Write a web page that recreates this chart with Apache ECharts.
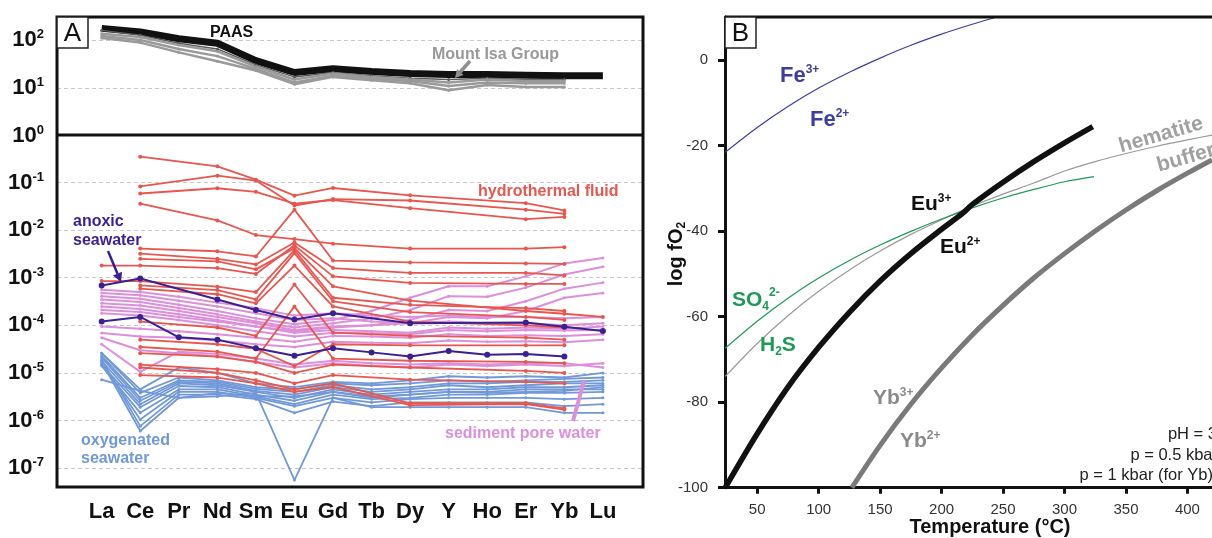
<!DOCTYPE html>
<html>
<head>
<meta charset="utf-8">
<script src="https://cdn.jsdelivr.net/npm/echarts@6/dist/echarts.min.js"></script>
<style>
  html, body { margin: 0; padding: 0; background: #ffffff; }
  #chart { width: 1212px; height: 538px; }
</style>
</head>
<body>
<div id="chart"></div>
<script>
// ---- Panel A: chondrite-normalised REE+Y patterns ----
const elements = ['La', 'Ce', 'Pr', 'Nd', 'Sm', 'Eu', 'Gd', 'Tb', 'Dy', 'Y', 'Ho', 'Er', 'Yb', 'Lu'];

const paas = [174, 147, 106, 85, 37, 21, 25, 22, 20, 19, 19, 18.5, 18, 18];

const mountIsaGroup = [
  [158, 125, 85, 65, 30, 17, 21, 18, 16, 15, 16, 15, 15, null],
  [135, 115, 78, 58, 28, 15, 20, 17, 15, 13, 15, 14, 14, null],
  [120, 100, 65, 46, 25, 13, 18, 15.5, 14, 11, 13, 12.5, 12.5, null],
  [110, 88, 55, 36, 23, 12, 17, 14.5, 12.5, 9, 11.5, 10.5, 10.5, null]
];

const hydrothermalFluid = [
  [null, 0.35, null, 0.22, 0.115, 0.053, 0.077, null, 0.054, null, null, 0.037, 0.026, null],
  [null, 0.083, null, 0.14, 0.11, 0.033, 0.045, null, 0.042, null, null, 0.027, 0.022, null],
  [null, 0.059, null, 0.076, 0.064, 0.036, 0.043, null, 0.029, null, null, 0.017, 0.019, null],
  [null, 0.036, null, 0.016, 0.0079, 0.0065, 0.0052, null, 0.0041, null, null, 0.0041, 0.0044, null],
  [null, 4.1e-3, null, 3.6e-3, 2.8e-3, 2.7e-2, 2.3e-3, null, 2.1e-3, null, null, 2.0e-3, 1.95e-3, null],
  [null, 3.2e-3, null, 2.5e-3, 1.9e-3, 5.5e-3, 1.6e-3, null, 1.26e-3, null, null, 1.26e-3, 1.12e-3, null],
  [1.8e-3, 1.8e-3, null, 1.6e-3, 1.2e-3, 4.8e-3, 1.07e-3, null, 7.8e-4, null, null, 7.4e-4, 7.4e-4, null],
  [null, 2.5e-3, null, 2.2e-3, 1.5e-3, 4.2e-3, 6.6e-4, null, 3.3e-4, null, null, 2.0e-4, 1.75e-4, 1.5e-4],
  [8.5e-4, 8.5e-4, null, 6.5e-4, 5.0e-4, 3.8e-3, 3.8e-4, null, 2.7e-4, null, null, 2.3e-4, 2.0e-4, null],
  [null, 6.9e-4, null, 5.5e-4, 3.5e-4, 3.3e-3, 3.2e-4, null, 1.9e-4, null, null, 1.5e-4, 1.3e-4, null],
  [null, 5.9e-4, null, 4.5e-4, 2.9e-4, 1.8e-3, 2.5e-4, null, 1.2e-4, null, null, 1.0e-4, 9.0e-5, null],
  [null, 1.2e-4, null, 9.0e-5, 6.0e-5, 7.2e-4, 7.0e-5, null, 6.0e-5, null, null, 5.5e-5, 5.0e-5, null],
  [null, 5.0e-5, null, 4.0e-5, 3.2e-5, 1.4e-5, 4.0e-5, null, 3.8e-5, null, null, 3.8e-5, 3.8e-5, null],
  [null, 3.5e-5, null, 2.8e-5, 2.0e-5, 2.5e-4, 2.0e-5, null, 1.8e-5, null, null, 1.7e-5, 1.6e-5, null],
  [null, 2.6e-5, null, 2.2e-5, 1.7e-5, 1.0e-5, 1.5e-5, null, 1.3e-5, null, null, 1.1e-5, 1.0e-5, null],
  [null, 1.5e-5, null, 1.2e-5, 1.0e-5, 6.0e-6, 9.0e-6, null, 7.2e-6, null, null, 6.5e-6, 6.0e-6, null],
  [null, 1.3e-5, null, 1.0e-5, 7.0e-6, 4.5e-6, 6.0e-6, null, 2.3e-6, null, null, 2.3e-6, 1.8e-6, null],
  [null, 9.0e-6, null, 8.0e-6, 6.0e-6, 4.0e-6, 5.0e-6, null, 2.1e-6, null, null, 2.2e-6, 1.7e-6, null]
];

const anoxicSeawater = [
  [6.9e-4, 9.6e-4, null, 3.5e-4, 2.1e-4, 1.32e-4, 1.8e-4, null, 1.1e-4, null, null, 1.15e-4, 9.3e-5, 7.6e-5],
  [1.2e-4, 1.5e-4, 5.6e-5, 5.0e-5, 3.3e-5, 2.3e-5, 3.3e-5, 2.7e-5, 2.2e-5, 2.9e-5, 2.4e-5, 2.5e-5, 2.2e-5, null]
];

const sedimentPoreWater = [
  [5.6e-4, 5.0e-4, 4.0e-4, 3.0e-4, 2.3e-4, 1.6e-4, 1.8e-4, 1.6e-4, 1.5e-4, 1.6e-4, 1.5e-4, 1.5e-4, 1.4e-4, 1.5e-4],
  [4.8e-4, 4.3e-4, 3.3e-4, 2.5e-4, 1.8e-4, 1.3e-4, 1.4e-4, 1.2e-4, 1.1e-4, 1.2e-4, 1.1e-4, 1.1e-4, 1.0e-4, 1.1e-4],
  [4.1e-4, 3.6e-4, 2.7e-4, 2.0e-4, 1.4e-4, 1.05e-4, 1.3e-4, 2.0e-4, 3.8e-4, 6.6e-4, 6.6e-4, 1.07e-3, 2.0e-3, 2.6e-3],
  [3.5e-4, 3.1e-4, 2.3e-4, 1.7e-4, 1.2e-4, 9.0e-5, 1.1e-4, 1.4e-4, 2.1e-4, 4.1e-4, 4.0e-4, 6.2e-4, 1.17e-3, 1.7e-3],
  [2.1e-4, 1.9e-4, 1.5e-4, 1.2e-4, 9.5e-5, 7.5e-5, 9.0e-5, 1.0e-4, 1.3e-4, 2.1e-4, 2.0e-4, 3.2e-4, 5.9e-4, 7.9e-4],
  [2.9e-4, 2.6e-4, 2.0e-4, 1.5e-4, 1.1e-4, 8.0e-5, 9.5e-5, 1.0e-4, 1.1e-4, 1.5e-4, 1.4e-4, 2.0e-4, 3.8e-4, 4.8e-4],
  [2.5e-4, 2.2e-4, 1.7e-4, 1.3e-4, 9.5e-5, 7.0e-5, 8.0e-5, 7.5e-5, 7.0e-5, 9.0e-5, 8.5e-5, 9.0e-5, 8.5e-5, 9.5e-5],
  [1.8e-4, 1.6e-4, 1.3e-4, 1.0e-4, 7.5e-5, 5.8e-5, 7.0e-5, 6.8e-5, 6.5e-5, 8.0e-5, 7.5e-5, 8.0e-5, 7.8e-5, 8.1e-5],
  [9.5e-5, 8.5e-5, 7.5e-5, 6.5e-5, 5.5e-5, 4.5e-5, 6.0e-5, 5.8e-5, 5.5e-5, 6.5e-5, 6.0e-5, 6.2e-5, 6.0e-5, 6.5e-5],
  [6.9e-5, 5.8e-5, 5.5e-5, 4.8e-5, 4.0e-5, 3.5e-5, 4.5e-5, 4.3e-5, 4.2e-5, 4.8e-5, 4.5e-5, 4.6e-5, 4.4e-5, 5.0e-5],
  [5.5e-5, 3.0e-5, 2.6e-5, 2.2e-5, 1.7e-5, 1.3e-5, 1.6e-5, 1.4e-5, 1.3e-5, 1.5e-5, 1.4e-5, 1.5e-5, 1.4e-5, 1.6e-5],
  [4.0e-5, 1.05e-5, 2.8e-5, 2.5e-5, 2.0e-5, 1.5e-5, 1.8e-5, 1.6e-5, 1.5e-5, 1.6e-5, 1.5e-5, 1.6e-5, 1.6e-5, 1.3e-5]
];

const oxygenatedSeawater = [
  [2.6e-5, 3.8e-6, 8.0e-6, 7.0e-6, 5.0e-6, 4.5e-6, 6.0e-6, 5.5e-6, 6.0e-6, 7.0e-6, 6.5e-6, 7.0e-6, 7.5e-6, 8.0e-6],
  [2.3e-5, 3.0e-6, 7.0e-6, 6.5e-6, 4.6e-6, 4.0e-6, 5.5e-6, 4.5e-6, 5.0e-6, 6.0e-6, 6.0e-6, 6.5e-6, 6.5e-6, 7.0e-6],
  [2.1e-5, 2.6e-6, 6.5e-6, 6.0e-6, 4.2e-6, 3.5e-6, 5.0e-6, 4.0e-6, 4.5e-6, 5.5e-6, 5.0e-6, 5.5e-6, 6.0e-6, 6.0e-6],
  [1.8e-5, 2.2e-6, 6.0e-6, 5.5e-6, 4.0e-6, 3.0e-6, 4.5e-6, 3.5e-6, 4.0e-6, 4.5e-6, 4.5e-6, 5.0e-6, 5.0e-6, 5.5e-6],
  [1.5e-5, 1.9e-6, 5.3e-6, 5.0e-6, 3.5e-6, 2.6e-6, 4.0e-6, 3.0e-6, 3.5e-6, 4.0e-6, 4.0e-6, 4.5e-6, 4.5e-6, 4.5e-6],
  [1.4e-5, 1.45e-6, 4.5e-6, 4.5e-6, 3.2e-6, 2.2e-6, 3.5e-6, 2.8e-6, 3.0e-6, 3.5e-6, 3.5e-6, 3.8e-6, 3.8e-6, 4.0e-6],
  [1.6e-5, 1.05e-6, 4.0e-6, 4.0e-6, 3.0e-6, 2.0e-6, 3.0e-6, 2.4e-6, 2.8e-6, 3.0e-6, 3.0e-6, 3.0e-6, 2.8e-6, 3.0e-6],
  [1.9e-5, 7.6e-7, 3.5e-6, 3.5e-6, 2.8e-6, 1.45e-6, 2.5e-6, 2.0e-6, 2.4e-6, 2.4e-6, 2.4e-6, 2.4e-6, 2.0e-6, 2.2e-6],
  [1.7e-5, 6.0e-7, 3.0e-6, 3.2e-6, 3.8e-6, 5.6e-8, 3.0e-6, 1.9e-6, 1.9e-6, 1.9e-6, 1.9e-6, 1.9e-6, 1.45e-6, 1.45e-6],
  [7.2e-6, 4.2e-6, 3.0e-6, 3.8e-6, 3.2e-6, 3.2e-6, 4.0e-6, 3.2e-6, 3.5e-6, 4.0e-6, 3.8e-6, 4.0e-6, 4.2e-6, 5.0e-6],
  [2.6e-5, 4.5e-6, 1.3e-5, 1.0e-5, 6.0e-6, 5.0e-6, 6.5e-6, 6.0e-6, 7.0e-6, 8.5e-6, 8.0e-6, 8.5e-6, 8.0e-6, 1.0e-5]
];

// ---- Panel B: redox boundaries, [temperature °C, log fO2] ----
const feBoundary = [[24, -21.6], [50, -15.8], [75, -10.9], [100, -6.6], [125, -2.9], [150, 0.4], [175, 3.4], [200, 6.0], [225, 8.3], [245, 10.0]];
const euBoundary = [[24, -100], [50, -87.4], [75, -76.5], [100, -67.2], [125, -59.0], [150, -51.7], [175, -45.3], [200, -39.6], [217, -35.9], [225, -33.8], [250, -28.6], [275, -23.8], [300, -19.4], [323, -15.6]];
const sulfateSulfide = [[24, -67.4], [50, -61.1], [75, -55.7], [100, -51.0], [125, -46.9], [150, -43.3], [175, -40.1], [200, -37.2], [225, -34.6], [250, -32.3], [275, -30.3], [300, -28.5], [324, -27.3]];
const hematiteBuffer = [[24, -74.0], [50, -66.3], [75, -59.8], [100, -54.1], [125, -49.1], [150, -44.7], [175, -40.8], [200, -37.4], [225, -34.2], [250, -31.4], [275, -28.8], [300, -26.0], [325, -23.8], [350, -21.9], [375, -20.2], [400, -18.7], [420, -17.6]];
const ybBoundary = [[127, -100], [150, -90.1], [175, -80.5], [200, -72.0], [225, -64.3], [250, -57.4], [275, -51.0], [300, -45.3], [325, -40.0], [350, -35.1], [375, -30.6], [400, -26.5], [420, -23.4]];

const tempTicks = [50, 100, 150, 200, 250, 300, 350, 400];
const fo2Ticks = [-100, -80, -60, -40, -20, 0];

// ---- styling ----
const F = 'Arial, "Liberation Sans", Helvetica, sans-serif';
const RED = '#e8574f', PINK = '#dc8fda', BLUE = '#7198d8', PURPLE = '#3b1f94';

const chart = echarts.init(document.getElementById('chart'), null, { renderer: 'canvas' });

function powerLabel(hideZero) {
  return function (v) {
    const e = Math.log10(v);
    const r = Math.round(e);
    if (Math.abs(e - r) > 1e-6) return '';
    if (hideZero && r === 0) return '';
    return '{b|10}{s|' + r + '}';
  };
}
const powRich = {
  b: { fontFamily: F, fontSize: 22, fontWeight: 'bold', color: '#111', lineHeight: 24 },
  s: { fontFamily: F, fontSize: 13, fontWeight: 'bold', color: '#111', lineHeight: 13, verticalAlign: 'top' }
};

function reeSeries(values, gridIdx, color, width, symbolSize, z) {
  return {
    type: 'line',
    xAxisIndex: gridIdx,
    yAxisIndex: gridIdx,
    data: values.map((v, i) => [i, v]).filter(p => p[1] != null),
    lineStyle: { color: color, width: width },
    itemStyle: { color: color },
    symbol: 'circle',
    symbolSize: symbolSize,
    showSymbol: symbolSize > 0,
    silent: true,
    z: z
  };
}
function curveSeries(points, color, width, z) {
  return {
    type: 'line', xAxisIndex: 2, yAxisIndex: 2, data: points, smooth: 0.3,
    lineStyle: { color: color, width: width }, showSymbol: false, symbol: 'none', silent: true, z: z
  };
}

const series = [];
series.push(reeSeries(paas, 0, '#111', 7, 0, 5));
mountIsaGroup.forEach((row, k) => series.push(reeSeries(row, 0, k === 0 ? '#5a5a5a' : '#9a9a9a', k === 0 ? 1.5 : 2.5, 3, 6)));
oxygenatedSeawater.forEach(row => series.push(reeSeries(row, 1, BLUE, 1.8, 3, 2)));
sedimentPoreWater.forEach(row => series.push(reeSeries(row, 1, PINK, 2, 3, 3)));
hydrothermalFluid.forEach(row => series.push(reeSeries(row, 1, RED, 1.8, 4, 4)));
anoxicSeawater.forEach(row => series.push(reeSeries(row, 1, PURPLE, 2, 6, 5)));

series.push(curveSeries(feBoundary, '#3e3e9e', 1.2, 3));
series.push(curveSeries(hematiteBuffer, '#9a9a9a', 1.2, 3));
series.push(curveSeries(sulfateSulfide, '#1f9a5a', 1.2, 4));
series.push(curveSeries(ybBoundary, '#7a7a7a', 5, 3));
series.push(curveSeries(euBoundary, '#111', 5.5, 5));

// annotation helpers
function arrow(x1, y1, x2, y2, color, w, head) {
  const a = Math.atan2(y2 - y1, x2 - x1);
  const bx = x2 - Math.cos(a) * head, by = y2 - Math.sin(a) * head;
  const px = -Math.sin(a) * head * 0.55, py = Math.cos(a) * head * 0.55;
  return [
    { type: 'line', shape: { x1: x1, y1: y1, x2: bx, y2: by }, style: { stroke: color, lineWidth: w }, z: 100 },
    { type: 'polygon', shape: { points: [[x2, y2], [bx + px, by + py], [bx - px, by - py]] }, style: { fill: color }, z: 100 }
  ];
}
function text(x, y, str, color, size, extra) {
  return Object.assign({
    type: 'text', x: x, y: y, z: 100,
    style: { text: str, fill: color, font: 'bold ' + size + 'px ' + F, align: 'left', verticalAlign: 'middle', lineHeight: 18 }
  }, extra || {});
}
function ionLabel(x, y, base, sup, color, size) {
  return {
    type: 'text', x: x, y: y, z: 100,
    style: {
      text: '{m|' + base + '}{s|' + sup + '}', align: 'left', verticalAlign: 'middle',
      rich: {
        m: { fontFamily: F, fontSize: size, fontWeight: 'bold', fill: color, lineHeight: size + 2 },
        s: { fontFamily: F, fontSize: 12, fontWeight: 'bold', fill: color, lineHeight: 12, verticalAlign: 'top' }
      }
    }
  };
}
function boxLetter(x, y, letter) {
  return [
    { type: 'rect', shape: { x: x, y: y, width: 31, height: 31 }, style: { fill: '#fff', stroke: '#222', lineWidth: 1.5 }, z: 100 },
    { type: 'text', x: x + 15.5, y: y + 16.5, z: 101, style: { text: letter, fill: '#111', font: '26px ' + F, align: 'center', verticalAlign: 'middle' } }
  ];
}

const frameA = [
  { type: 'rect', shape: { x: 57, y: 17, width: 586, height: 470 }, style: { fill: 'none', stroke: '#111', lineWidth: 3 }, z: 95 },
  { type: 'line', shape: { x1: 57, y1: 135, x2: 643, y2: 135 }, style: { stroke: '#111', lineWidth: 3 }, z: 95 },
  { type: 'line', shape: { x1: 725, y1: 17, x2: 1214, y2: 17 }, style: { stroke: '#111', lineWidth: 3 }, z: 95 }
];

const graphics = [].concat(
  frameA,
  boxLetter(57, 17, 'A'),
  boxLetter(725, 17, 'B'),
  [text(210, 33, 'PAAS', '#111', 16)],
  [text(432, 55, 'Mount Isa Group', '#999', 16)],
  arrow(470, 61, 455, 78, '#8f8f8f', 3.5, 8),
  [text(478, 192, 'hydrothermal fluid', RED, 16)],
  [text(73, 222, 'anoxic', PURPLE, 16), text(73, 241, 'seawater', PURPLE, 16)],
  arrow(108, 251, 121, 282, PURPLE, 2.5, 9),
  [text(81, 441, 'oxygenated', BLUE, 16), text(81, 459, 'seawater', BLUE, 16)],
  [text(445, 434, 'sediment pore water', PINK, 16)],
  [{ type: 'line', shape: { x1: 573, y1: 421, x2: 584, y2: 381 }, style: { stroke: PINK, lineWidth: 4 }, z: 100 }],
  // panel B labels
  [ionLabel(780, 76, 'Fe', '3+', '#3e3e9e', 22), ionLabel(810, 120, 'Fe', '2+', '#3e3e9e', 22)],
  [ionLabel(911, 204, 'Eu', '3+', '#111', 21), ionLabel(940, 247, 'Eu', '2+', '#111', 21)],
  [ionLabel(873, 398, 'Yb', '3+', '#8a8a8a', 21), ionLabel(900, 441, 'Yb', '2+', '#8a8a8a', 21)],
  [{
    type: 'text', x: 732, y: 300, z: 100,
    style: {
      text: '{m|SO}{d|4}{s|2-}', align: 'left', verticalAlign: 'middle',
      rich: {
        m: { fontFamily: F, fontSize: 21, fontWeight: 'bold', fill: '#1f9a5a', lineHeight: 26 },
        d: { fontFamily: F, fontSize: 12, fontWeight: 'bold', fill: '#1f9a5a', lineHeight: 12, verticalAlign: 'bottom' },
        s: { fontFamily: F, fontSize: 12, fontWeight: 'bold', fill: '#1f9a5a', lineHeight: 12, verticalAlign: 'top' }
      }
    }
  }, {
    type: 'text', x: 760, y: 345, z: 100,
    style: {
      text: '{m|H}{d|2}{m|S}', align: 'left', verticalAlign: 'middle',
      rich: {
        m: { fontFamily: F, fontSize: 21, fontWeight: 'bold', fill: '#1f9a5a', lineHeight: 26 },
        d: { fontFamily: F, fontSize: 12, fontWeight: 'bold', fill: '#1f9a5a', lineHeight: 12, verticalAlign: 'bottom' }
      }
    }
  }],
  [
    { type: 'text', x: 1161, y: 135, rotation: 0.28, z: 100, style: { text: 'hematite', fill: '#a0a0a0', font: 'bold 21px ' + F, align: 'center', verticalAlign: 'middle' } },
    { type: 'text', x: 1186, y: 158, rotation: 0.28, z: 100, style: { text: 'buffer', fill: '#a0a0a0', font: 'bold 21px ' + F, align: 'center', verticalAlign: 'middle' } }
  ],
  [
    { type: 'text', x: 1217, y: 434, z: 100, style: { text: 'pH = 3', fill: '#222', font: '16.5px ' + F, align: 'right', verticalAlign: 'middle' } },
    { type: 'text', x: 1218, y: 455, z: 100, style: { text: 'p = 0.5 kbar', fill: '#222', font: '16.5px ' + F, align: 'right', verticalAlign: 'middle' } },
    { type: 'text', x: 1213, y: 475, z: 100, style: { text: 'p = 1 kbar (for Yb)', fill: '#222', font: '16.5px ' + F, align: 'right', verticalAlign: 'middle' } }
  ],
  [
    { type: 'text', x: 990, y: 527, z: 100, style: { text: 'Temperature (°C)', fill: '#111', font: 'bold 20px ' + F, align: 'center', verticalAlign: 'middle' } },
    {
      type: 'text', x: 676, y: 254, rotation: Math.PI / 2, z: 100,
      style: {
        text: '{m|log fO}{d|2}', align: 'center', verticalAlign: 'middle',
        rich: {
          m: { fontFamily: F, fontSize: 20, fontWeight: 'bold', fill: '#111', lineHeight: 24 },
          d: { fontFamily: F, fontSize: 12, fontWeight: 'bold', fill: '#111', lineHeight: 12, verticalAlign: 'bottom' }
        }
      }
    }
  ]
);

const dashed = { show: true, showMinLine: false, showMaxLine: false, lineStyle: { type: [4, 3], color: '#c8c8c8', width: 1 } };
const xIdx = elements.map((_, i) => i);

const option = {
  animation: false,
  backgroundColor: '#ffffff',
  grid: [
    { left: 57, top: 17, width: 586, height: 119 },
    { left: 57, top: 135, width: 586, height: 352 },
    { left: 725, top: 17, width: 489, height: 470.7 }
  ],
  xAxis: [
    { gridIndex: 0, type: 'value', min: -1.159, max: 14.04, axisLine: { show: false, onZero: false }, axisTick: { show: false }, axisLabel: { show: false }, splitLine: { show: false } },
    {
      gridIndex: 1, type: 'value', min: -1.159, max: 14.04,
      axisLine: { show: false, onZero: false }, axisTick: { show: false }, splitLine: { show: false },
      axisLabel: { customValues: xIdx, formatter: v => elements[v], fontFamily: F, fontSize: 22, fontWeight: 'bold', color: '#111', margin: 14 }
    },
    {
      gridIndex: 2, type: 'value', min: 23.8, max: 420,
      axisLine: { show: true, onZero: false, lineStyle: { color: '#111', width: 3 } },
      axisTick: { show: true, customValues: tempTicks, length: 6, lineStyle: { color: '#111', width: 3 } },
      axisLabel: { customValues: tempTicks, fontFamily: F, fontSize: 15, color: '#333', margin: 15 },
      splitLine: { show: false }
    }
  ],
  yAxis: [
    {
      gridIndex: 0, type: 'log', logBase: 10, min: 1, max: 300,
      axisLine: { show: false }, axisTick: { show: false }, splitLine: dashed,
      axisLabel: { formatter: powerLabel(false), rich: powRich, margin: 13 }
    },
    {
      gridIndex: 1, type: 'log', logBase: 10, min: 4e-8, max: 1,
      axisLine: { show: false }, axisTick: { show: false }, splitLine: dashed,
      axisLabel: { formatter: powerLabel(true), rich: powRich, margin: 13 }
    },
    {
      gridIndex: 2, type: 'value', min: -100, max: 10,
      axisLine: { show: true, onZero: false, lineStyle: { color: '#111', width: 3 } },
      axisTick: { show: true, customValues: fo2Ticks, length: 7, lineStyle: { color: '#111', width: 3 } },
      axisLabel: { customValues: fo2Ticks, fontFamily: F, fontSize: 15, color: '#333', margin: 17 },
      splitLine: { show: false }
    }
  ],
  series: series,
  graphic: graphics
};

chart.setOption(option);
</script>
</body>
</html>
